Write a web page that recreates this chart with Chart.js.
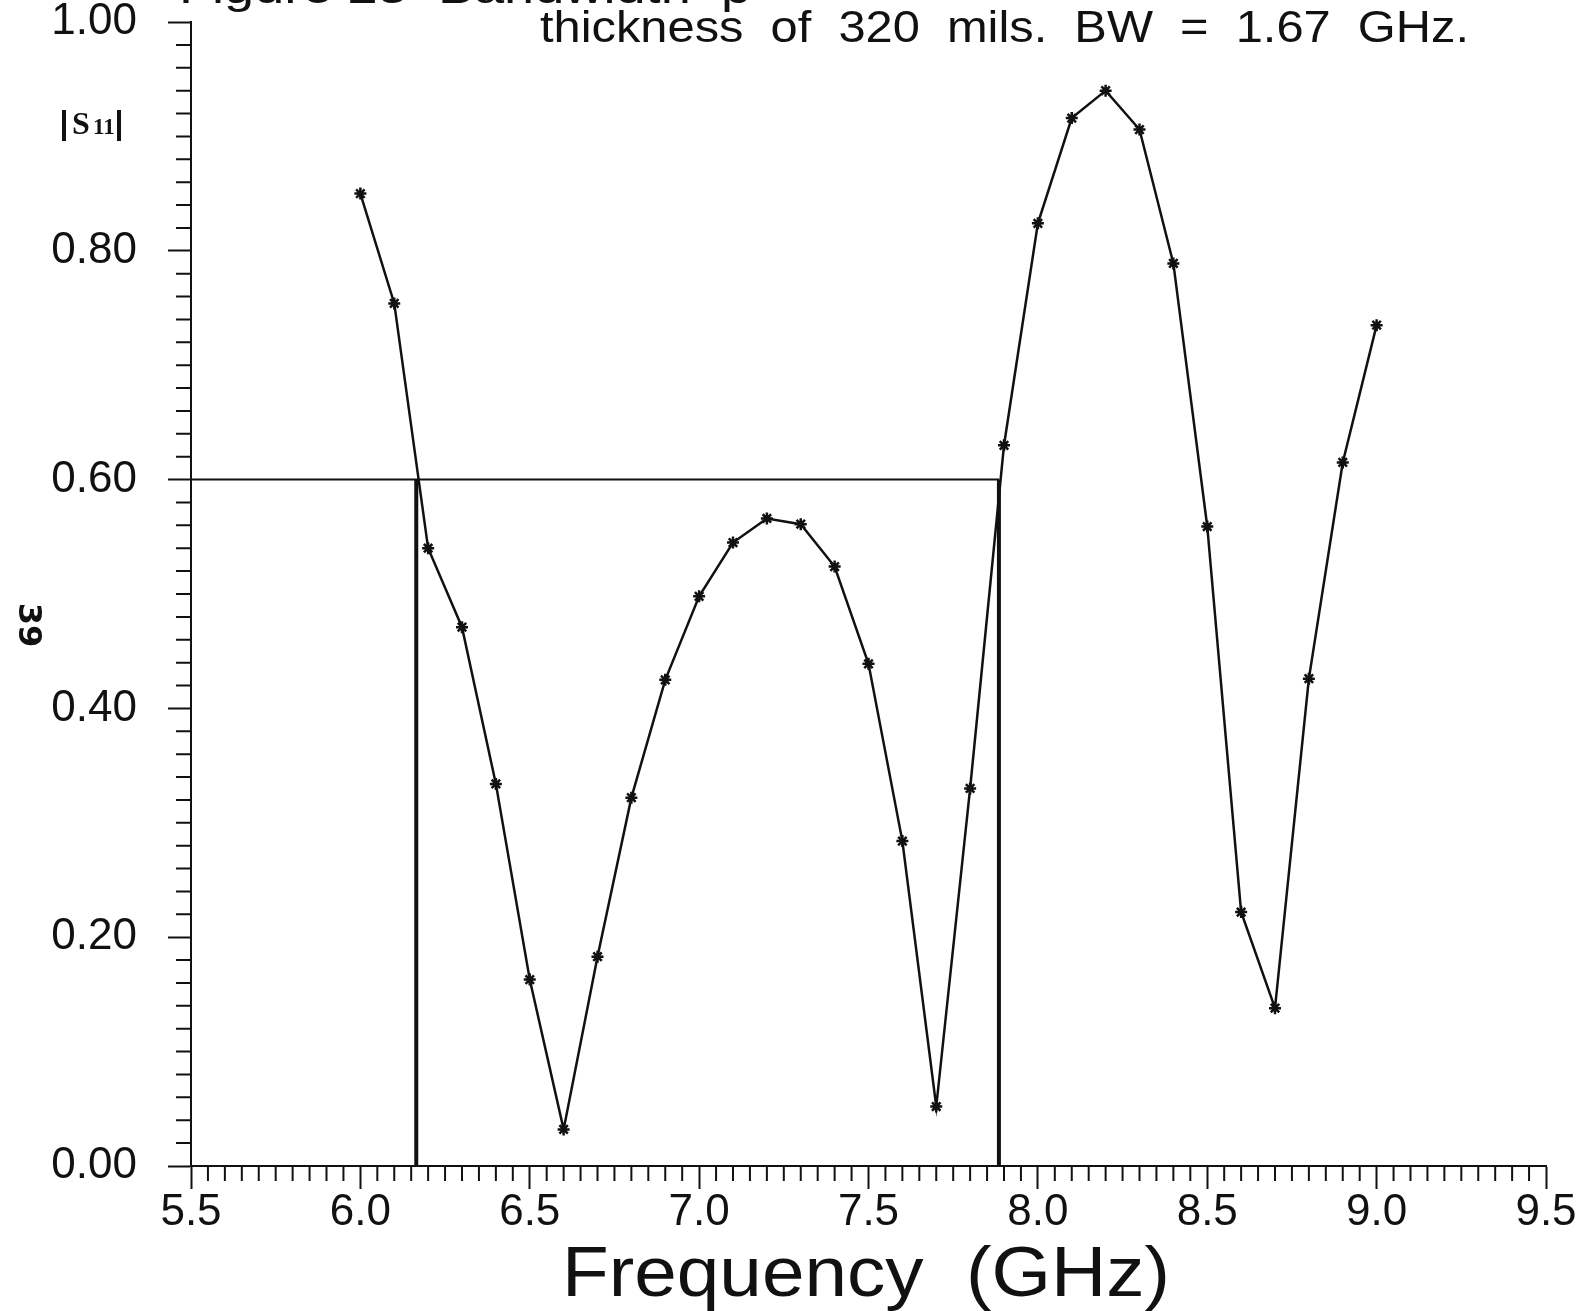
<!DOCTYPE html>
<html>
<head>
<meta charset="utf-8">
<script src="https://cdn.jsdelivr.net/npm/chart.js@4.4.1/dist/chart.umd.min.js"></script>
<style>
  html, body { margin: 0; padding: 0; background: #fff; }
  #plot { display: block; }
</style>
</head>
<body>
<canvas id="plot" width="1589" height="1311"></canvas>
<script>
// measured |S11| vs frequency
const freqGHz = [6.0, 6.1, 6.2, 6.3, 6.4, 6.5, 6.6, 6.7, 6.8, 6.9,
                 7.0, 7.1, 7.2, 7.3, 7.4, 7.5, 7.6, 7.7, 7.8, 7.9,
                 8.0, 8.1, 8.2, 8.3, 8.4, 8.5, 8.6, 8.7, 8.8, 8.9, 9.0];
const s11Mag = [0.850, 0.754, 0.540, 0.471, 0.334, 0.163, 0.032, 0.183, 0.322, 0.425,
                0.498, 0.545, 0.566, 0.561, 0.524, 0.439, 0.284, 0.052, 0.330, 0.630,
                0.824, 0.916, 0.940, 0.906, 0.789, 0.559, 0.222, 0.138, 0.426, 0.615, 0.735];

// bandwidth markers
const threshold = 0.6;
const bandEdges = [6.165, 7.885];

// axes
const xRange = [5.5, 9.5];
const yRange = [0, 1.0];
const xMajorStep = 0.5, xMinorStep = 0.05;
const yMajorStep = 0.2, yMinorStep = 0.02;

const titleTop = 'Figure 25  Bandwidth  p';
const titleLine = 'thickness  of  320  mils.  BW  =  1.67  GHz.';
const xTitle = 'Frequency  (GHz)';

const ink = '#111';
const font = '"Liberation Sans", Arial, sans-serif';

function fitText(ctx, text, x, baseline, width) {
    const w = ctx.measureText(text).width;
    ctx.save();
    ctx.translate(x, baseline);
    ctx.scale(width / w, 1);
    ctx.fillText(text, 0, 0);
    ctx.restore();
}

const decorations = {
    id: 'decorations',
    afterDraw(chart) {
        const ctx = chart.ctx;
        const xs = chart.scales.x, ys = chart.scales.y;
        ctx.save();
        ctx.strokeStyle = ink;
        ctx.fillStyle = ink;
        ctx.lineWidth = 2;

        // minor ticks
        ctx.beginPath();
        const ny = Math.round((yRange[1] - yRange[0]) / yMinorStep);
        for (let i = 0; i <= ny; i++) {
            if (i % 10 === 0) continue;
            const py = ys.getPixelForValue(yRange[0] + i * yMinorStep);
            ctx.moveTo(xs.left - 15, py);
            ctx.lineTo(xs.left, py);
        }
        const nx = Math.round((xRange[1] - xRange[0]) / xMinorStep);
        for (let i = 0; i <= nx; i++) {
            if (i % 10 === 0) continue;
            const px = xs.getPixelForValue(xRange[0] + i * xMinorStep);
            ctx.moveTo(px, ys.bottom);
            ctx.lineTo(px, ys.bottom + 15);
        }
        ctx.stroke();

        // titles
        ctx.textAlign = 'left';
        ctx.textBaseline = 'alphabetic';
        ctx.font = '44px ' + font;
        fitText(ctx, titleTop, 179, 3, 572);
        fitText(ctx, titleLine, 540, 42, 929);

        ctx.font = '70px ' + font;
        fitText(ctx, xTitle, 562, 1296, 608);

        // |S11| label
        ctx.fillRect(62, 110, 4, 31);
        ctx.fillRect(117, 110, 4, 31);
        ctx.font = 'bold 32px "Liberation Serif", serif';
        ctx.fillText('S', 72, 134);
        ctx.font = 'bold 23px "Liberation Serif", serif';
        ctx.fillText('11', 93, 134);

        // page number
        ctx.font = 'bold 32px "DejaVu Sans", sans-serif';
        ctx.translate(27, 625);
        ctx.rotate(Math.PI / 2);
        ctx.textAlign = 'center';
        ctx.textBaseline = 'middle';
        ctx.fillText('39', 0, 0);
        ctx.restore();
    }
};

const ctx = document.getElementById('plot').getContext('2d');
new Chart(ctx, {
    type: 'line',
    data: {
        datasets: [
            {
                data: freqGHz.map((f, i) => ({ x: f, y: s11Mag[i] })),
                borderColor: ink,
                borderWidth: 2.5,
                pointStyle: 'star',
                pointRadius: 6,
                pointBorderWidth: 2.5,
                pointBorderColor: ink,
                pointBackgroundColor: ink,
                tension: 0
            },
            {
                data: [{ x: xRange[0], y: threshold }, { x: bandEdges[1], y: threshold }],
                borderColor: ink,
                borderWidth: 2,
                pointRadius: 0
            },
            {
                data: [{ x: bandEdges[0], y: 0 }, { x: bandEdges[0], y: threshold }],
                borderColor: ink,
                borderWidth: 4,
                pointRadius: 0
            },
            {
                data: [{ x: bandEdges[1], y: 0 }, { x: bandEdges[1], y: threshold }],
                borderColor: ink,
                borderWidth: 4,
                pointRadius: 0
            }
        ]
    },
    options: {
        responsive: false,
        animation: false,
        devicePixelRatio: 1,
        layout: { padding: { top: 22, right: 43, left: 0, bottom: 0 } },
        plugins: {
            legend: { display: false },
            tooltip: { enabled: false }
        },
        scales: {
            x: {
                type: 'linear',
                min: xRange[0],
                max: xRange[1],
                afterFit: (s) => { s.height = 145; s.paddingLeft = 0; s.paddingRight = 0; },
                border: { color: ink, width: 2 },
                grid: { drawOnChartArea: false, tickLength: 23, tickWidth: 2, tickColor: ink },
                ticks: {
                    stepSize: xMajorStep,
                    autoSkip: false,
                    maxRotation: 0,
                    padding: -3,
                    color: ink,
                    font: { family: font, size: 44 },
                    callback: (v) => v.toFixed(1)
                }
            },
            y: {
                min: yRange[0],
                max: yRange[1],
                afterFit: (s) => { s.width = 191; s.paddingTop = 0; s.paddingBottom = 0; },
                border: { color: ink, width: 2 },
                grid: { drawOnChartArea: false, tickLength: 23, tickWidth: 2, tickColor: ink },
                ticks: {
                    stepSize: yMajorStep,
                    padding: 31,
                    color: ink,
                    font: { family: font, size: 44 },
                    callback: (v) => v.toFixed(2)
                }
            }
        }
    },
    plugins: [decorations]
});
</script>
</body>
</html>
